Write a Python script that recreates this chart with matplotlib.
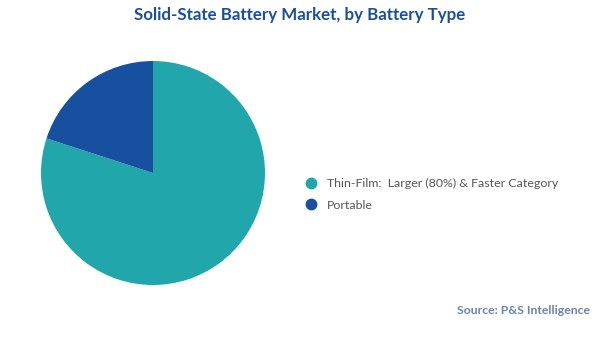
import matplotlib
matplotlib.use("Agg")
import matplotlib.pyplot as plt
from matplotlib.lines import Line2D

categories = ["Thin-Film:  Larger (80%) & Faster Category", "Portable"]
values = [80, 20]
colors = ["#21A7AB", "#17509F"]

plt.rcParams['font.family'] = ['Lato', 'DejaVu Sans']

fig = plt.figure(figsize=(6, 3.37), dpi=100)
ax = fig.add_axes([0.0, 0.0, 1, 1])
ax.pie(values, colors=colors, startangle=90, counterclock=False,
       wedgeprops=dict(linewidth=0))
ax.set_aspect('equal')
ax.set_xlim(-1, 1); ax.set_ylim(-1, 1)
# position pie: center (153,173) px, radius 112 px
W, H = 600, 337
r = 112
ax.set_position([(153 - r) / W, (H - 173 - r) / H, 2 * r / W, 2 * r / H])

handles = [Line2D([], [], marker='o', linestyle='none', markersize=7.5,
                  markerfacecolor=c, markeredgecolor=c) for c in colors]
fig.legend(handles, categories, loc='center left',
           bbox_to_anchor=(299 / W, 1 - 194.5 / H), frameon=False,
           fontsize=8.9, labelcolor='#555555', handletextpad=0.75,
           labelspacing=0.85, handlelength=1.0, borderpad=0)

fig.text(0.5, 1 - 15 / H, "Solid-State Battery Market, by Battery Type",
         ha='center', va='center', fontsize=12.2, fontweight='bold', color='#1A4F9C')
fig.text(590 / W, 1 - 311 / H, "Source: P&S Intelligence", ha='right', va='center',
         fontsize=8.8, fontweight='bold', color='#6A82AD')

fig.savefig("out.png", dpi=100, facecolor='white')
